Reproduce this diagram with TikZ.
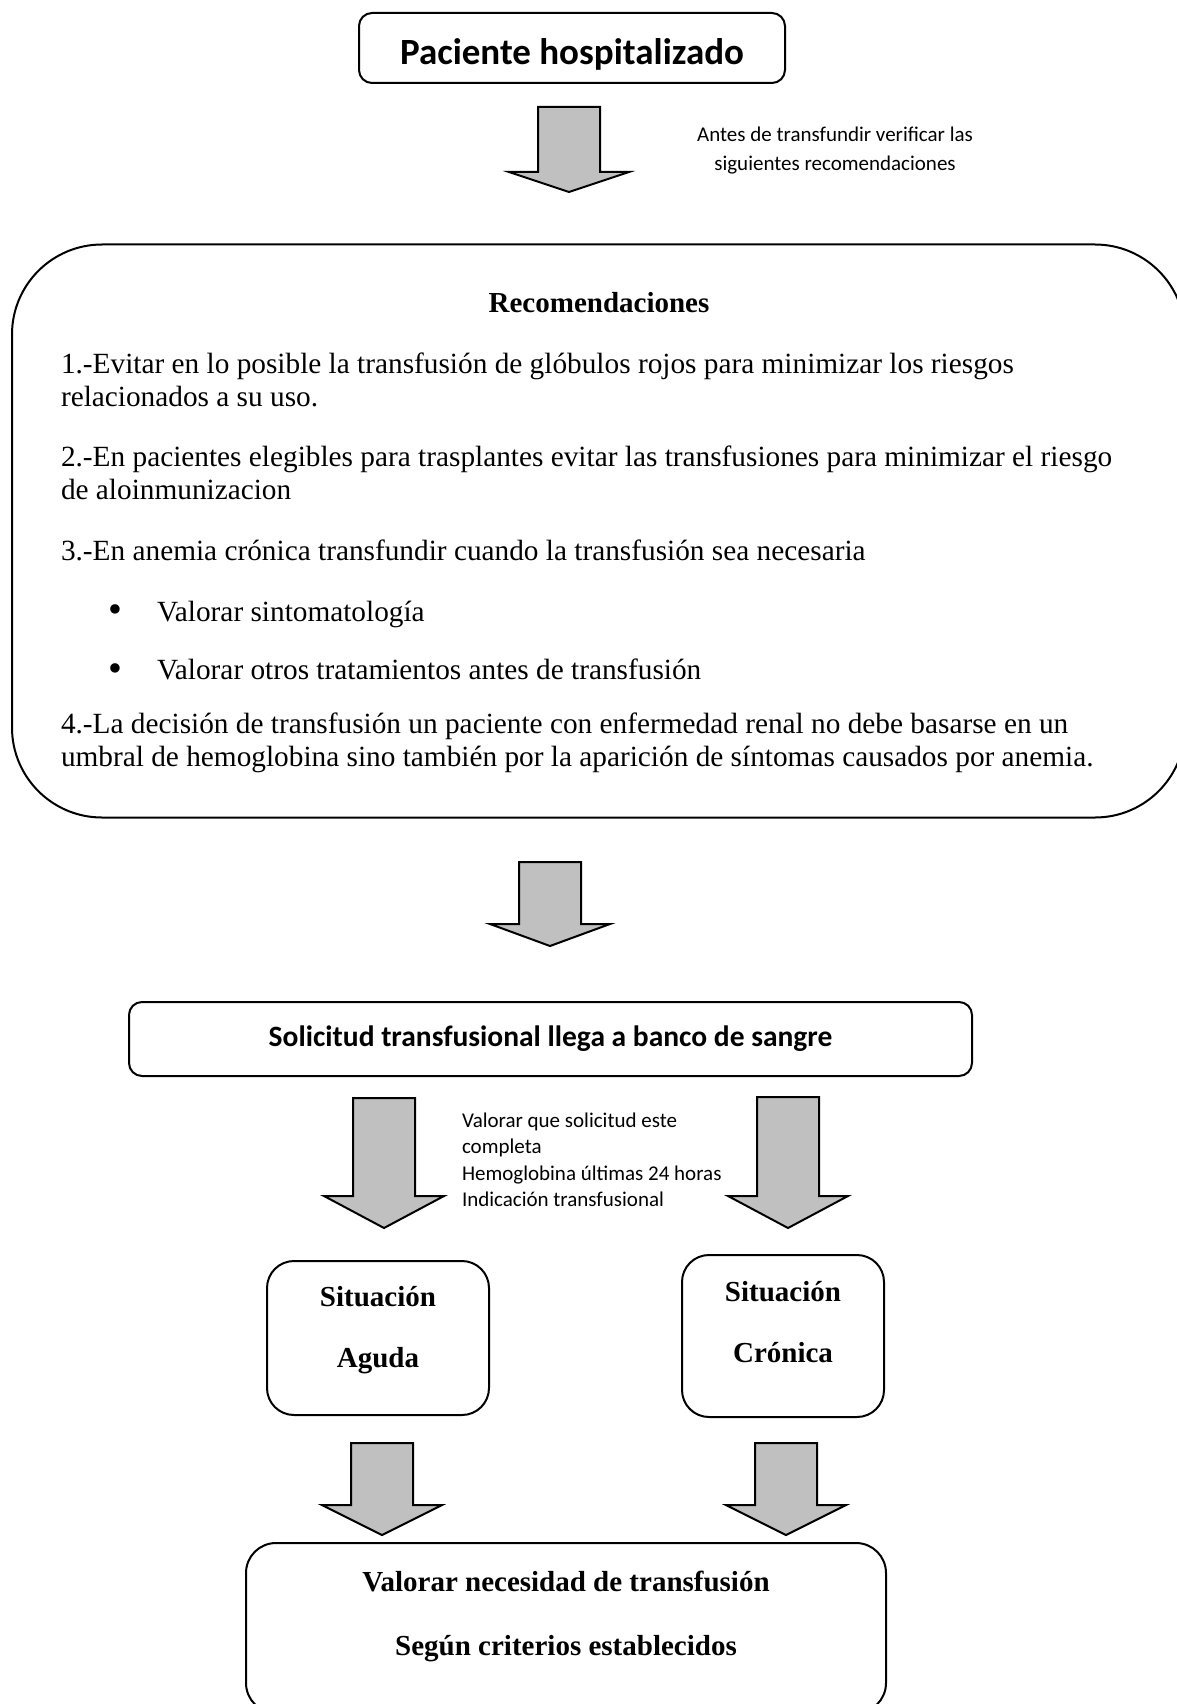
\documentclass[tikz,border=0pt]{standalone}
\usepackage{fontspec}
\setmainfont{Liberation Serif}
\newfontfamily\calibri{Carlito}
\usepackage{tikz}
\usetikzlibrary{positioning}

\definecolor{arrowgray}{RGB}{192,192,192}

% block arrow pointing down: #1 x, #2 top, #3 head, #4 tip
\newcommand{\fatarrow}[4]{%
  \draw[fat] (#1-31,#2) -- (#1+31,#2) -- (#1+31,#3) -- (#1+60,#3)
             -- (#1,#4) -- (#1-60,#3) -- (#1-31,#3) -- cycle;}
\newcommand{\bigbullet}{\makebox[49pt][l]{\raisebox{-1.5pt}{\scalebox{1.35}{\textbullet}}}}

\begin{document}
\begin{tikzpicture}[x=1pt,y=-1pt,line width=2pt,
                    box/.style={draw,rounded corners=13,inner sep=0},
                    fat/.style={draw,fill=arrowgray,line join=miter},
                    title/.style={font=\calibri\bfseries\fontsize{37}{44}\selectfont},
                    subtitle/.style={font=\calibri\bfseries\fontsize{29.5}{36}\selectfont},
                    note/.style={font=\calibri\fontsize{21}{29}\selectfont,align=center},
                    body/.style={font=\fontsize{29.3}{32.5}\selectfont,align=left,
                                 anchor=west,inner sep=0},
                    bold/.style={font=\bfseries\fontsize{29}{33}\selectfont,align=center}]
  \useasboundingbox (0,0) rectangle (1176,1704);
  \fill[white] (0,0) rectangle (1176,1704);

  \node[box,minimum width=426,minimum height=70] (pac) at (572,48) {};
  \node[title] (pactxt) at ([yshift=-6]pac.center) {Paciente hospitalizado};
  \node[note] (antes) at (835,151) {Antes de transfundir verificar las\\siguientes recomendaciones};

  \node[box,rounded corners=90,minimum width=1173,minimum height=573] (rec) at (598.5,531) {};
  \node[bold]  (rectit) at (599,303) {Recomendaciones};
  \node[body]  (p1) at (60,380) {1.-Evitar en lo posible la transfusión de glóbulos rojos para minimizar los riesgos\\relacionados a su uso.};
  \node[body]  (p2) at (60,473) {2.-En pacientes elegibles para trasplantes evitar las transfusiones para minimizar el riesgo\\de aloinmunizacion};
  \node[body]  (p3) at (60,550) {3.-En anemia crónica transfundir cuando la transfusión sea necesaria};
  \node[body]  (b1) at (107,614) {\bigbullet Valorar sintomatología};
  \node[body]  (b2) at (107,670) {\bigbullet Valorar otros tratamientos antes de transfusión};
  \node[body]  (p4) at (60,743) {4.-La decisión de transfusión un paciente con enfermedad renal no debe basarse en un\\umbral de hemoglobina sino también por la aparición de síntomas causados por anemia.};

  \node[box,subtitle,minimum width=843,minimum height=74] (sol) at (550.5,1039) {Solicitud transfusional llega a banco de sangre};
  \node[note,align=left,anchor=west,inner sep=0,font=\calibri\fontsize{21}{26.5}\selectfont]
       (valsol) at (461,1160) {Valorar que solicitud este\\completa\\Hemoglobina últimas 24 horas\\Indicación transfusional};

  \node[box,rounded corners=27,minimum width=222,minimum height=154] (agu) at (378,1338) {};
  \node[bold] (agutxt) at ([yshift=8]agu.center) {Situación\\[28pt]Aguda};
  \node[box,rounded corners=27,minimum width=202,minimum height=162] (cro) at (783,1336) {};
  \node[bold] (crotxt) at ([yshift=14]cro.center) {Situación\\[28pt]Crónica};

  \node[box,rounded corners=30,minimum width=640,minimum height=170] (val) at (566,1628) {};
  \node[bold] (valtxt) at ([yshift=12]val.center) {Valorar necesidad de transfusión\\[31pt]Según criterios establecidos};

  \fatarrow{569}{107}{172}{192}
  \fatarrow{550}{862}{924}{946}
  \fatarrow{384}{1098}{1196}{1228}
  \fatarrow{788}{1097}{1196}{1228}
  \fatarrow{382}{1443}{1505}{1535}
  \fatarrow{786}{1443}{1505}{1535}
\end{tikzpicture}
\end{document}
